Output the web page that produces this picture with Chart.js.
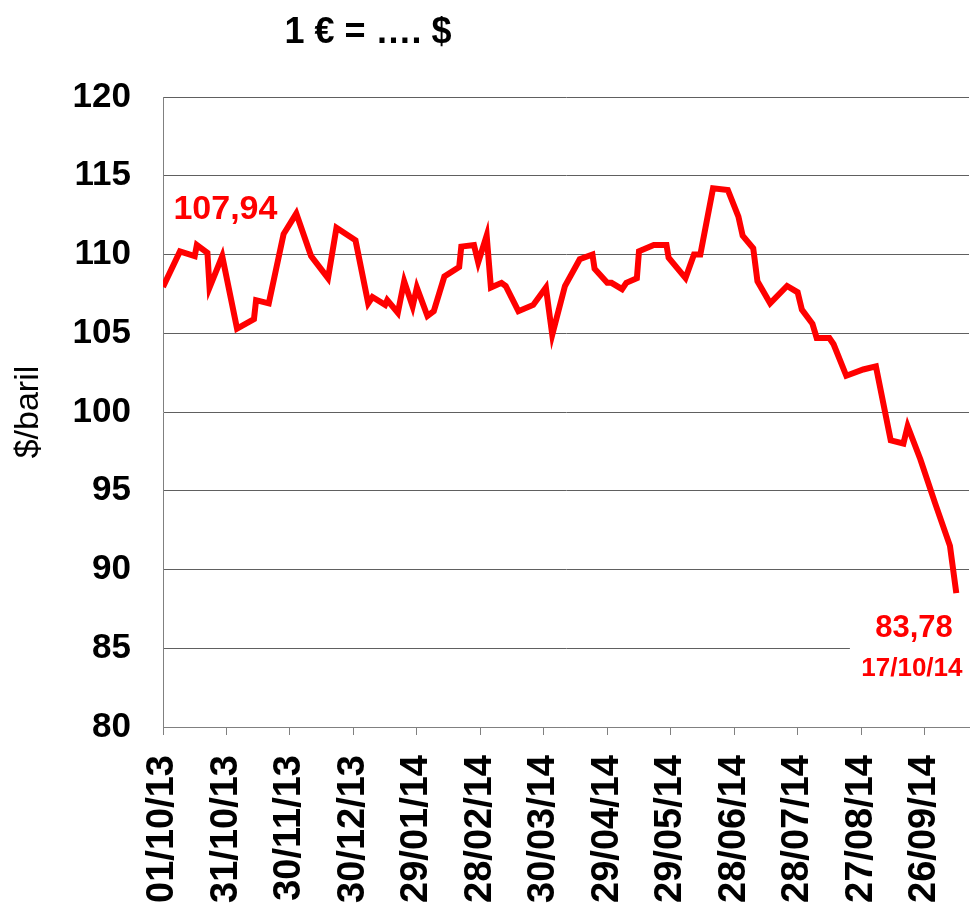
<!DOCTYPE html>
<html>
<head>
<meta charset="utf-8">
<title>Brent $/baril</title>
<script src="https://cdn.jsdelivr.net/npm/chart.js@4.4.1/dist/chart.umd.min.js"></script>
<style>
    body { margin: 0; background: #fff; }
</style>
</head>
<body>
<canvas id="myChart" width="970" height="909"></canvas>
<script>
// prix du baril, dates (jj/mm/aa)
let dateArray = [
    '01/10/13', '09/10/13', '16/10/13', '17/10/13', '22/10/13', '23/10/13', '29/10/13',
    '05/11/13', '13/11/13', '14/11/13', '20/11/13', '27/11/13',
    '03/12/13', '10/12/13', '18/12/13', '22/12/13', '31/12/13',
    '06/01/14', '08/01/14', '14/01/14', '15/01/14', '20/01/14', '23/01/14', '27/01/14', '29/01/14',
    '03/02/14', '06/02/14', '11/02/14', '18/02/14', '19/02/14', '25/02/14', '27/02/14',
    '03/03/14', '05/03/14', '10/03/14', '12/03/14', '18/03/14', '25/03/14', '31/03/14',
    '03/04/14', '09/04/14', '16/04/14', '22/04/14', '23/04/14', '29/04/14',
    '01/05/14', '06/05/14', '08/05/14', '13/05/14', '14/05/14', '21/05/14', '27/05/14', '28/05/14',
    '05/06/14', '09/06/14', '12/06/14', '18/06/14', '25/06/14', '30/06/14',
    '02/07/14', '07/07/14', '09/07/14', '15/07/14', '23/07/14', '28/07/14', '30/07/14',
    '04/08/14', '06/08/14', '12/08/14', '14/08/14', '20/08/14', '28/08/14',
    '03/09/14', '10/09/14', '16/09/14', '18/09/14', '24/09/14',
    '01/10/14', '08/10/14', '11/10/14'
];
let priceArray = [
    107.94, 110.2, 109.9, 110.6, 110.1, 107.9, 109.9,
    105.3, 105.9, 107.1, 106.9, 111.3,
    112.6, 109.9, 108.5, 111.7, 110.9,
    106.9, 107.3, 106.8, 107.1, 106.3, 108.3, 106.7, 107.9,
    106.1, 106.4, 108.6, 109.2, 110.5, 110.6, 109.5,
    111.2, 107.9, 108.2, 108.0, 106.4, 106.8, 107.9,
    104.9, 108.0, 109.7, 110.0, 109.1, 108.2,
    108.2, 107.8, 108.2, 108.5, 110.2, 110.6, 110.6, 109.8,
    108.5, 110.0, 110.0, 114.2, 114.1, 112.4,
    111.2, 110.4, 108.3, 106.9, 108.0, 107.6, 106.5,
    105.6, 104.7, 104.7, 104.3, 102.3, 102.7,
    102.9, 98.2, 98.0, 99.1, 97.0,
    94.2, 91.5, 88.5
];
let yMin = 80;
let yMax = 120;
let yStep = 5;
let xStepDays = 30;

let chartTitle = '1 € = …. $';
let yTitle = '$/baril';
let firstLabel = '107,94';
let lastLabel = '83,78';
let lastDate = '17/10/14';

const FONT = '"Liberation Sans", Arial, sans-serif';
const START = Date.UTC(2013, 9, 1);

function toDay(s) {
    const [d, m, y] = s.split('/').map(Number);
    return Math.round((Date.UTC(2000 + y, m - 1, d) - START) / 86400000);
}

function pad(n) {
    return (n < 10 ? '0' : '') + n;
}

function toLabel(day) {
    const dt = new Date(START + day * 86400000);
    return pad(dt.getUTCDate()) + '/' + pad(dt.getUTCMonth() + 1) + '/' + String(dt.getUTCFullYear()).slice(2);
}

const points = dateArray.map((d, i) => ({ x: toDay(d), y: priceArray[i] }));

// titre + etiquettes rouges
const labelsPlugin = {
    id: 'labels',
    afterDatasetsDraw(chart) {
        const c = chart.ctx;
        const x = chart.scales.x;
        const y = chart.scales.y;
        c.save();
        c.textAlign = 'center';
        c.textBaseline = 'alphabetic';

        c.fillStyle = '#000';
        c.font = 'bold 36px ' + FONT;
        c.fillText(chartTitle, 368, 43);

        c.fillStyle = '#ff0000';
        c.font = 'bold 34px ' + FONT;
        c.fillText(firstLabel, x.getPixelForValue(29.5), y.getPixelForValue(112.25));

        // fond blanc derriere la derniere valeur
        c.fillStyle = '#fff';
        const bx = x.getPixelForValue(324.7);
        const by = y.getPixelForValue(87.3);
        c.fillRect(bx, by, chart.width - bx, y.getPixelForValue(82.4) - by);

        c.fillStyle = '#ff0000';
        c.font = 'bold 31px ' + FONT;
        c.fillText(lastLabel, x.getPixelForValue(355), y.getPixelForValue(85.71));
        c.font = 'bold 26px ' + FONT;
        c.fillText(lastDate, x.getPixelForValue(354), y.getPixelForValue(83.24));
        c.restore();
    }
};

const ctx = document.getElementById('myChart');

new Chart(ctx, {
    type: 'line',
    data: {
        datasets: [{
            label: 'Brent',
            data: points,
            borderColor: '#ff0000',
            borderWidth: 6,
            pointRadius: 0,
            tension: 0,
            fill: false
        }]
    },
    options: {
        responsive: false,
        animation: false,
        layout: {
            padding: { top: 97, right: 1, left: 0, bottom: 0 }
        },
        plugins: {
            legend: { display: false },
            tooltip: { enabled: false }
        },
        scales: {
            x: {
                type: 'linear',
                min: 0,
                max: 381,
                afterBuildTicks: scale => {
                    scale.ticks = scale.ticks.filter(t => t.value % xStepDays === 0);
                },
                afterFit: scale => {
                    scale.height = 182;
                    scale.paddingLeft = 0;
                    scale.paddingRight = 0;
                },
                ticks: {
                    stepSize: xStepDays,
                    autoSkip: false,
                    minRotation: 90,
                    maxRotation: 90,
                    padding: 20,
                    color: '#000',
                    font: { family: FONT, size: 38, weight: 'bold' },
                    callback: v => toLabel(v)
                },
                grid: {
                    drawOnChartArea: false,
                    drawTicks: true,
                    tickLength: 8,
                    color: '#808080'
                },
                border: { color: '#808080', width: 1 }
            },
            y: {
                min: yMin,
                max: yMax,
                afterFit: scale => {
                    scale.width = 163;
                    scale.paddingTop = 0;
                    scale.paddingBottom = 0;
                },
                ticks: {
                    stepSize: yStep,
                    padding: 32,
                    color: '#000',
                    font: { family: FONT, size: 35, weight: 'bold' }
                },
                grid: {
                    color: '#606060',
                    lineWidth: 1,
                    drawTicks: false
                },
                border: { color: '#808080', width: 1 },
                title: {
                    display: true,
                    text: yTitle,
                    color: '#000',
                    padding: { top: 8, bottom: 0 },
                    font: { family: FONT, size: 34, weight: 'normal' }
                }
            }
        }
    },
    plugins: [labelsPlugin]
});
</script>
</body>
</html>
